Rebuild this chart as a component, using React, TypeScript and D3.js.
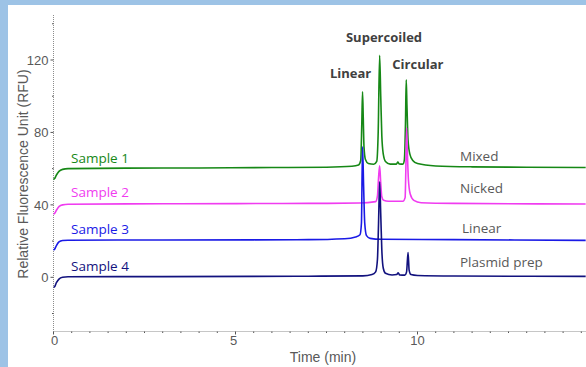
import React, { useRef, useEffect } from "react";
import * as d3 from "d3";

type Pt = [number, number];

// Traces: [time (min), RFU]
const sample1: Pt[] = [
  [0, 54], [0.03, 54.5], [0.08, 56.5], [0.15, 58.5], [0.25, 59.6], [0.4, 60],
  [2, 60.3], [4, 60.4], [6, 60.6], [7.5, 60.8], [8.2, 61.3], [8.38, 62],
  [8.44, 64.5], [8.47, 85], [8.49, 102.5], [8.51, 88], [8.53, 72], [8.57, 65],
  [8.65, 62.8], [8.8, 62.4], [8.88, 64], [8.92, 80], [8.96, 122.6], [8.99, 100],
  [9.02, 78], [9.06, 68], [9.12, 64], [9.25, 62.5], [9.42, 62.5], [9.46, 63.6],
  [9.5, 62.6], [9.6, 62.5], [9.64, 65], [9.67, 85], [9.69, 109], [9.71, 95],
  [9.74, 76], [9.79, 68], [9.87, 64.5], [10, 62.8], [10.5, 61.5], [11.5, 61],
  [13, 60.8], [14.62, 60.6],
];

const sample2: Pt[] = [
  [0, 35], [0.03, 35.3], [0.08, 37], [0.15, 39], [0.25, 40], [0.4, 40.3],
  [3, 40.6], [7, 40.8], [8.4, 41], [8.85, 41.8], [8.9, 45], [8.93, 55],
  [8.96, 61.6], [8.99, 52], [9.02, 44.5], [9.07, 42.5], [9.2, 42], [9.6, 42],
  [9.66, 44], [9.68, 60], [9.7, 82.5], [9.72, 70], [9.75, 54], [9.8, 46],
  [9.9, 42.5], [10.1, 41.2], [11, 40.8], [14.62, 40.5],
];

const sample3: Pt[] = [
  [0, 15], [0.03, 15.5], [0.08, 17.5], [0.15, 19.5], [0.25, 20.3], [0.4, 20.5],
  [3, 20.6], [7, 20.8], [8, 21.3], [8.3, 22.3], [8.42, 23.5], [8.46, 30],
  [8.49, 72], [8.52, 50], [8.55, 30], [8.6, 23], [8.7, 21.5], [9, 21],
  [11, 20.8], [14.62, 20.4],
];

const sample4: Pt[] = [
  [0, -5.5], [0.03, -5.2], [0.08, -3], [0.15, -1], [0.25, 0], [0.4, 0.3],
  [3, 0.4], [7, 0.6], [8.5, 0.8], [8.75, 1.5], [8.85, 3], [8.9, 10],
  [8.93, 30], [8.96, 52.8], [8.99, 35], [9.02, 15], [9.06, 5], [9.12, 2.2],
  [9.3, 1.3], [9.43, 1.5], [9.47, 2.5], [9.51, 1.3], [9.65, 1.2], [9.7, 3],
  [9.74, 13.7], [9.77, 4], [9.82, 1.5], [10, 1], [11, 0.7], [14.62, 0.5],
];

const seriesNames = ["Sample 1", "Sample 2", "Sample 3", "Sample 4"];
const sampleTypes = ["Mixed", "Nicked", "Linear", "Plasmid prep"];
// RFU level of the baseline of each left / right label
const nameLevels = [63, 44.3, 24, 3.5];
const typeLevels = [64.5, 46.3, 24.2, 5.5];
const seriesColors = ["#168816", "#f03cf0", "#1a1ae6", "#12127e"];
const traces = [sample1, sample2, sample3, sample4];

// peak annotations: [label, time, RFU of label baseline]
const peakLabels: [string, number, number][] = [
  ["Linear", 8.16, 110],
  ["Supercoiled", 9.08, 130.2],
  ["Circular", 10.01, 114.8],
];

const yTickLabels = [0, 40, 80, 120];
const xTickLabels = [0, 5, 10];

const App = () => {
  const svgRef = useRef<SVGSVGElement>(null);

  useEffect(() => {
    const W = 586;
    const H = 367;
    const svg = d3.select(svgRef.current);
    svg.selectAll("*").remove();

    // blue frame + white panel
    svg.append("rect").attr("width", W).attr("height", H).attr("fill", "#9dc3e6");
    svg.append("rect").attr("x", 8).attr("y", 5).attr("width", W - 8).attr("height", H - 5).attr("fill", "#ffffff");

    const x = d3.scaleLinear().domain([0, 10]).range([53.5, 417.5]);
    const y = d3.scaleLinear().domain([0, 120]).range([277.3, 60]);
    const x0 = x(0);
    const yBottom = 331.5;
    const yTop = 15;

    const axisColor = "#8c8c8c";
    const axisFont = "Liberation Sans, Arial, sans-serif";

    // dotted axes
    svg.append("line")
      .attr("x1", x0).attr("x2", x0).attr("y1", yTop).attr("y2", yBottom)
      .attr("stroke", axisColor).attr("stroke-width", 1).attr("stroke-dasharray", "1,1");
    svg.append("line")
      .attr("x1", x0).attr("x2", W).attr("y1", yBottom).attr("y2", yBottom)
      .attr("stroke", axisColor).attr("stroke-width", 1).attr("stroke-dasharray", "1,1");

    // y ticks
    const yMinor = d3.range(-20, 141, 20);
    svg.selectAll(".ytick")
      .data(yMinor)
      .enter()
      .append("line")
      .attr("x1", (d) => (d % 40 === 0 ? x0 - 3 : x0 - 1.5))
      .attr("x2", x0)
      .attr("y1", (d) => y(d))
      .attr("y2", (d) => y(d))
      .attr("stroke", "#555")
      .attr("stroke-width", 1);

    svg.selectAll(".ylab")
      .data(yTickLabels)
      .enter()
      .append("text")
      .attr("x", x0 - 5)
      .attr("y", (d) => y(d))
      .attr("dy", "0.36em")
      .attr("text-anchor", "end")
      .attr("font-family", axisFont)
      .attr("font-size", 13)
      .attr("fill", "#595959")
      .text((d) => d);

    // x ticks
    const xMinor = d3.range(0, 14.6, 0.5);
    svg.selectAll(".xtick")
      .data(xMinor)
      .enter()
      .append("line")
      .attr("x1", (d) => x(d))
      .attr("x2", (d) => x(d))
      .attr("y1", yBottom)
      .attr("y2", (d) => (d % 5 === 0 ? yBottom + 3 : yBottom + 1.5))
      .attr("stroke", "#555")
      .attr("stroke-width", 1);

    svg.selectAll(".xlab")
      .data(xTickLabels)
      .enter()
      .append("text")
      .attr("x", (d) => x(d) + (d === 0 ? 1 : d === 5 ? -2 : 0))
      .attr("y", 345)
      .attr("text-anchor", "middle")
      .attr("font-family", axisFont)
      .attr("font-size", 13)
      .attr("fill", "#595959")
      .text((d) => d);

    // axis titles
    svg.append("text")
      .attr("transform", `translate(27.5, 174) rotate(-90)`)
      .attr("text-anchor", "middle")
      .attr("font-family", axisFont)
      .attr("font-size", 14)
      .attr("fill", "#595959")
      .text("Relative Fluorescence Unit (RFU)");

    svg.append("text")
      .attr("x", 323)
      .attr("y", 362)
      .attr("text-anchor", "middle")
      .attr("font-family", axisFont)
      .attr("font-size", 14)
      .attr("fill", "#595959")
      .text("Time (min)");

    // traces
    const line = d3
      .line<Pt>()
      .x((d) => x(d[0]))
      .y((d) => y(d[1]))
      .curve(d3.curveMonotoneX);

    traces.forEach((t, i) => {
      svg.append("path")
        .datum(t)
        .attr("d", line)
        .attr("fill", "none")
        .attr("stroke", seriesColors[i])
        .attr("stroke-width", 1.6)
        .attr("stroke-linejoin", "round");
    });

    // sample labels (left)
    const labelFont = "Open Sans, Calibri, sans-serif";
    seriesNames.forEach((name, i) => {
      svg.append("text")
        .attr("x", 71)
        .attr("y", y(nameLevels[i]))
        .attr("font-family", labelFont)
        .attr("font-size", 13.5)
        .attr("fill", seriesColors[i])
        .text(name);
    });

    // sample type labels (right)
    sampleTypes.forEach((name, i) => {
      svg.append("text")
        .attr("x", i === 2 ? 462 : 460)
        .attr("y", y(typeLevels[i]))
        .attr("font-family", labelFont)
        .attr("font-size", 13.5)
        .attr("fill", "#595959")
        .text(name);
    });

    // peak labels
    svg.selectAll(".peak")
      .data(peakLabels)
      .enter()
      .append("text")
      .attr("x", (d) => x(d[1]))
      .attr("y", (d) => y(d[2]))
      .attr("text-anchor", "middle")
      .attr("font-family", labelFont)
      .attr("font-weight", "bold")
      .attr("font-size", 13)
      .attr("fill", "#404040")
      .text((d) => d[0]);
  }, []);

  return (
    <svg
      ref={svgRef}
      width={586}
      height={367}
      style={{ position: "absolute", left: 0, top: 0 }}
    />
  );
};

export default App;
